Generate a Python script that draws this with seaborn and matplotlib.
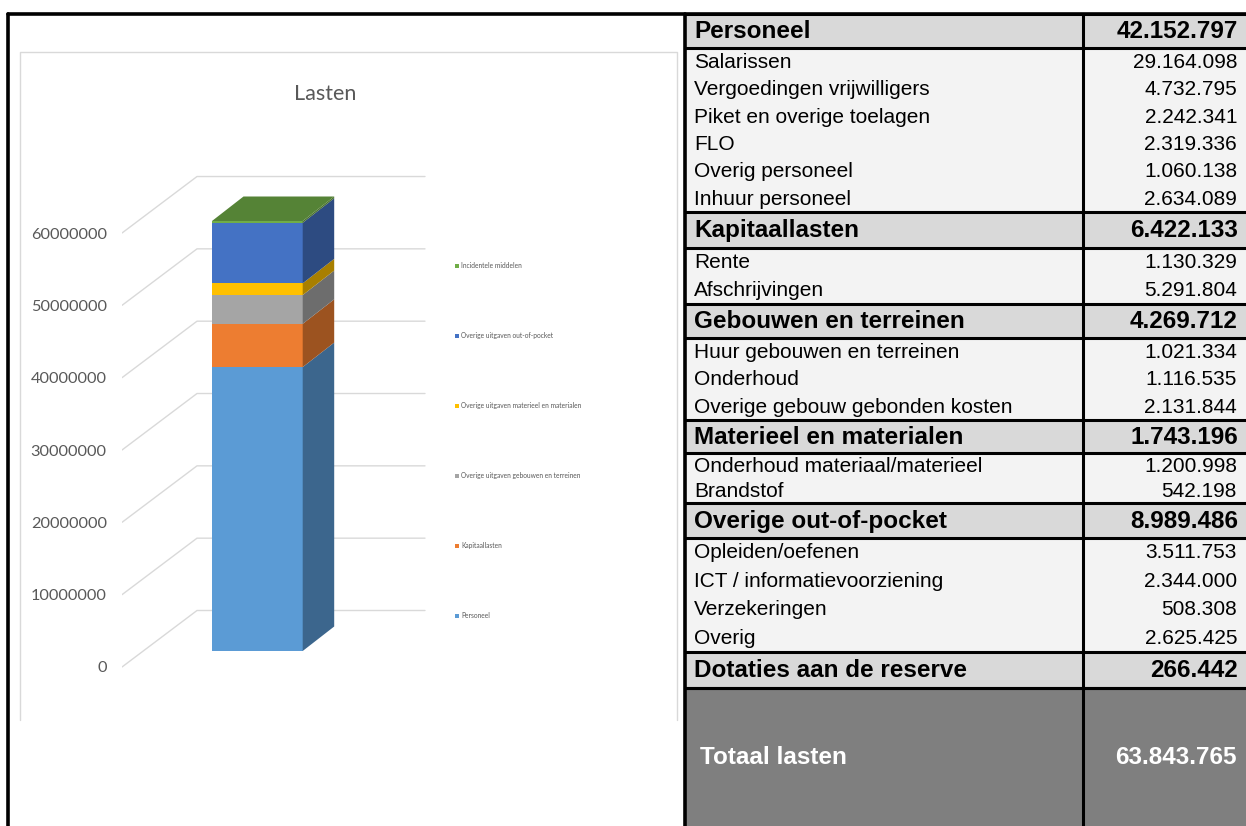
import numpy as np
import pandas as pd
import matplotlib
matplotlib.use("Agg")
import matplotlib.pyplot as plt
import seaborn as sns
from matplotlib.patches import Rectangle, Polygon, Patch
from matplotlib.transforms import IdentityTransform
import matplotlib.colors as mcolors

# ---------------- data ----------------
chart_title = "Lasten"
chart_category = ["Lasten"]
chart_labels = ["Personeel", "Kapitaallasten", "Overige uitgaven gebouwen en terreinen",
                "Overige uitgaven materieel en materialen", "Overige uitgaven out-of-pocket",
                "Incidentele middelen"]
chart_values = [42152797, 6422133, 4269712, 1743196, 8989486, 266442]
axis_ticks = [0, 10000000, 20000000, 30000000, 40000000, 50000000, 60000000]

group_names = ["Personeel", "Kapitaallasten", "Gebouwen en terreinen",
               "Materieel en materialen", "Overige out-of-pocket", "Dotaties aan de reserve"]
group_totals = [42152797, 6422133, 4269712, 1743196, 8989486, 266442]

personeel_items = ["Salarissen", "Vergoedingen vrijwilligers", "Piket en overige toelagen",
                   "FLO", "Overig personeel", "Inhuur personeel"]
personeel_values = [29164098, 4732795, 2242341, 2319336, 1060138, 2634089]
kapitaal_items = ["Rente", "Afschrijvingen"]
kapitaal_values = [1130329, 5291804]
gebouwen_items = ["Huur gebouwen en terreinen", "Onderhoud", "Overige gebouw gebonden kosten"]
gebouwen_values = [1021334, 1116535, 2131844]
materieel_items = ["Onderhoud materiaal/materieel", "Brandstof"]
materieel_values = [1200998, 542198]
overig_items = ["Opleiden/oefenen", "ICT / informatievoorziening", "Verzekeringen", "Overig"]
overig_values = [3511753, 2344000, 508308, 2625425]
dotaties_items = []
dotaties_values = []

total_label = "Totaal lasten"
total_value = 63843765

group_items = [personeel_items, kapitaal_items, gebouwen_items, materieel_items, overig_items, dotaties_items]
group_item_values = [personeel_values, kapitaal_values, gebouwen_values, materieel_values, overig_values, dotaties_values]

# ---------------- style ----------------
W, H, DPI = 1246, 826, 100
front_colors = ["#5B9BD5", "#ED7D31", "#A5A5A5", "#FFC000", "#4472C4", "#70AD47"]
header_heights = [34, 36, 34, 33, 35, 36]
sub_heights = [27.3, 28, 27.3, 25, 28.5, 0]

sns.set_theme(style="white")
plt.rcParams['font.family'] = ['Liberation Sans', 'DejaVu Sans']

fig = plt.figure(figsize=(W / DPI, H / DPI), dpi=DPI)
fig.patch.set_facecolor("white")


def fig_box(left, top, right, bottom):
    return [left / W, 1 - bottom / H, (right - left) / W, (bottom - top) / H]


def fmt(v):
    return f"{v:,}".replace(",", ".")


# canvas in pixel units for frame and table
cv = fig.add_axes([0, 0, 1, 1], zorder=0)
cv.set_xlim(0, W)
cv.set_ylim(H, 0)
cv.axis("off")

# ---------------- table ----------------
TL, TDIV, TR = 685, 1083, W
y = 14
for name, tot, items, vals, hh, sh in zip(group_names, group_totals, group_items,
                                          group_item_values, header_heights, sub_heights):
    cv.add_patch(Rectangle((TL, y), TR - TL, hh, facecolor="#D9D9D9", edgecolor="none"))
    cv.text(694, y + hh / 2 + 1, name, ha="left", va="center", fontsize=17.5,
            fontweight="bold", color="black")
    cv.text(1238, y + hh / 2 + 1, fmt(tot), ha="right", va="center", fontsize=17.5,
            fontweight="bold", color="black")
    cv.plot([TL, TR], [y, y], color="black", lw=2.2)
    y += hh
    cv.plot([TL, TR], [y, y], color="black", lw=2.2)
    if items:
        n = len(items)
        cv.add_patch(Rectangle((TL, y), TR - TL, sh * n, facecolor="#F3F3F3", edgecolor="none", zorder=0.5))
        for it, v in zip(items, vals):
            cv.text(694, y + sh / 2 + 1, it, ha="left", va="center", fontsize=15, color="black")
            cv.text(1237, y + sh / 2 + 1, fmt(v), ha="right", va="center", fontsize=15, color="black")
            y += sh

cv.add_patch(Rectangle((TL, y), TR - TL, H - y, facecolor="#7F7F7F", edgecolor="none"))
cv.plot([TL, TR], [y, y], color="black", lw=2.2)
cv.text(700, y + (H - y) / 2 + 1, total_label, ha="left", va="center", fontsize=17.5,
        fontweight="bold", color="white")
cv.text(1237, y + (H - y) / 2 + 1, fmt(total_value), ha="right", va="center", fontsize=17.5,
        fontweight="bold", color="white")

cv.plot([TDIV, TDIV], [14, H], color="black", lw=2.2)
cv.plot([TL, TL], [14, H], color="black", lw=2.6)
cv.plot([8, 8], [14, H], color="black", lw=2.6)
cv.plot([8, TR], [14, 14], color="black", lw=2.6)

# chart frame
cv.plot([20, 20, 677, 677], [720, 52, 52, 720], color="#D9D9D9", lw=1)
cv.text(325, 94, chart_title, ha="center", va="center", fontsize=15.5, color="#595959",
        family=["Lato", "DejaVu Sans"])

# ---------------- back wall with ticks ----------------
px_per_10m = 72.33
k_wall = 1e7 / px_per_10m
wall = fig.add_axes(fig_box(122, 120, 440, 700), zorder=1)
wall.set_facecolor("none")
wall.set_xlim(122, 440)
wall.set_ylim(-(700 - 667) * k_wall, (667 - 120) * k_wall)
for v in axis_ticks:
    off = 56.5 * k_wall
    wall.plot([122, 197, 425], [v, v + off, v + off], color="#D9D9D9", lw=1)
wall.set_yticks(axis_ticks)
wall.set_yticklabels([str(v) for v in axis_ticks], fontsize=11.8, color="#595959",
                     family=["Lato", "DejaVu Sans"])
wall.tick_params(axis="y", length=0, pad=11)
wall.set_xticks([])
for s in wall.spines.values():
    s.set_visible(False)

# ---------------- 3D-style stacked bar ----------------
px_per_m = 430 / (sum(chart_values) / 1e6)
k_bar = 1e6 / px_per_m
bax = fig.add_axes(fig_box(150, 100, 450, 700), zorder=2)
bax.set_facecolor("none")
bottoms = np.concatenate([[0], np.cumsum(chart_values)[:-1]])
for lab, val, b, col in zip(chart_labels, chart_values, bottoms, front_colors):
    df = pd.DataFrame({"cat": chart_category, "val": [val]})
    sns.barplot(data=df, x="cat", y="val", bottom=b, color=col, saturation=1,
                width=0.6, linewidth=0, ax=bax)
unit = 90.7 / 0.6
bax.set_xlim(-(257.35 - 150) / unit, (450 - 257.35) / unit)
bax.set_ylim(-(700 - 651) * k_bar, (651 - 100) * k_bar)
bax.axis("off")

dx, dy = 31.5, 24.5
bars = [p for p in bax.patches if isinstance(p, Rectangle)]
for i, (p, col) in enumerate(zip(bars, front_colors)):
    x0, y0, w, h = p.get_x(), p.get_y(), p.get_width(), p.get_height()
    (X0, Y0), (X1, Y1) = bax.transData.transform([(x0, y0), (x0 + w, y0 + h)])
    rgb = np.array(mcolors.to_rgb(col))
    side = Polygon([(X1, Y0), (X1 + dx, Y0 + dy), (X1 + dx, Y1 + dy), (X1, Y1)],
                   closed=True, transform=IdentityTransform(), facecolor=rgb * 0.66,
                   edgecolor="none", zorder=3)
    fig.add_artist(side)
    if i == len(bars) - 1:
        top = Polygon([(X0, Y1), (X1, Y1), (X1 + dx, Y1 + dy), (X0 + dx, Y1 + dy)],
                      closed=True, transform=IdentityTransform(), facecolor=rgb * 0.76,
                      edgecolor="none", zorder=3)
        fig.add_artist(top)

handles = [Patch(facecolor=c, edgecolor="none") for c in front_colors][::-1]
leg = bax.legend(handles, chart_labels[::-1], loc="upper left",
                 bbox_to_anchor=(455 / W, 1 - 262 / H), bbox_transform=fig.transFigure,
                 fontsize=4.8, labelspacing=9.45, handlelength=0.6, handleheight=0.6,
                 handletextpad=0.3, frameon=False, borderpad=0, borderaxespad=0,
                 labelcolor="#595959", prop={"family": ["Lato", "DejaVu Sans"], "size": 4.8})

fig.savefig("out.png", dpi=DPI)
